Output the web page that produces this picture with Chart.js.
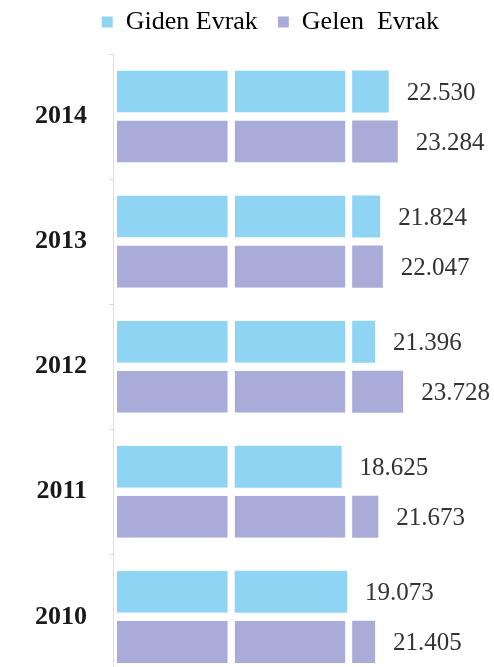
<!DOCTYPE html>
<html><head><meta charset="utf-8">
<script src="https://cdn.jsdelivr.net/npm/chart.js@4"></script>
<style>html,body{margin:0;padding:0;background:#fff;overflow:hidden}
#wrap{width:494px;height:717px;position:relative}</style></head>
<body><div id="wrap"><canvas id="c"></canvas></div>
<script>
const categories = ['2014', '2013', '2012', '2011', '2010'];
const gidenValues = [22530, 21824, 21396, 18625, 19073];
const gelenValues = [23284, 22047, 23728, 21673, 21405];
const seriesLabels = ['Giden Evrak', 'Gelen  Evrak'];

const SEGMENT = 9750;   // each block of the pictogram bar
const SEGMENTS = 3;
const colors = ['#8fd4f2', '#a9acd9'];
const series = [gidenValues, gelenValues];

function segmentPart(v, k) {
  const start = k * SEGMENT;
  if (k === SEGMENTS - 1) return Math.max(v - start, 0);
  return Math.min(Math.max(v - start, 0), SEGMENT);
}
function fmt(v) { return String(v).replace(/\B(?=(\d{3})+(?!\d))/g, '.'); }

const datasets = [];
series.forEach((vals, s) => {
  for (let k = 0; k < SEGMENTS; k++) {
    datasets.push({
      label: seriesLabels[s],
      stack: 's' + s,
      data: vals.map(v => segmentPart(v, k)),
      backgroundColor: colors[s],
      borderColor: '#ffffff',
      borderSkipped: false,
      borderWidth: (ctx) => {
        const v = vals[ctx.dataIndex];
        const hasNext = ctx.dataIndex !== undefined && k < SEGMENTS - 1 && v > (k + 1) * SEGMENT;
        return { top: 0, bottom: 0, left: 0, right: hasNext ? 7 : 0 };
      },
      categoryPercentage: 0.8,
      barPercentage: 0.84
    });
  }
});

const valueLabels = {
  id: 'valueLabels',
  afterDatasetsDraw(chart) {
    const ctx = chart.ctx, xs = chart.scales.x;
    ctx.save();
    ctx.font = '25px "Liberation Serif"';
    ctx.fillStyle = '#333';
    ctx.textBaseline = 'middle';
    ctx.textAlign = 'left';
    series.forEach((vals, s) => {
      const meta = chart.getDatasetMeta(s * SEGMENTS);
      vals.forEach((v, i) => {
        const el = meta.data[i];
        ctx.fillText(fmt(v), xs.getPixelForValue(v) + 18, el.y + 2);
      });
    });
    ctx.restore();
  }
};

new Chart(document.getElementById('c'), {
  type: 'bar',
  data: { labels: categories, datasets },
  plugins: [valueLabels],
  options: {
    indexAxis: 'y',
    responsive: true,
    maintainAspectRatio: false,
    animation: false,
    events: [],
    layout: { padding: { top: -11, left: 0, right: 35, bottom: 0 } },
    plugins: {
      tooltip: { enabled: false },
      title: { display: true, text: '', padding: 0, weight: 500, font: { size: 9, lineHeight: 1 } },
      legend: {
        position: 'top',
        align: 'end',
        labels: {
          padding: 20,
          boxWidth: 11,
          boxHeight: 11,
          color: '#333',
          font: { family: '"Liberation Serif"', size: 26 },
          generateLabels: () => seriesLabels.map((t, s) => ({
            text: t, fillStyle: colors[s], strokeStyle: colors[s], lineWidth: 0, datasetIndex: s * SEGMENTS, hidden: false
          }))
        }
      }
    },
    scales: {
      x: { stacked: true, display: false, min: -330, max: 28360 },
      y: {
        stacked: true,
        offset: true,
        afterFit: (scale) => { scale.width = 113; },
        border: { color: '#dddddd', width: 1 },
        grid: { offset: true, drawOnChartArea: false, drawTicks: true, tickLength: 4, color: '#dddddd' },
        ticks: { padding: 22, color: '#1a1a1a', font: { family: '"Liberation Serif"', size: 26, weight: 'bold' } }
      }
    }
  }
});
</script>
</body></html>
